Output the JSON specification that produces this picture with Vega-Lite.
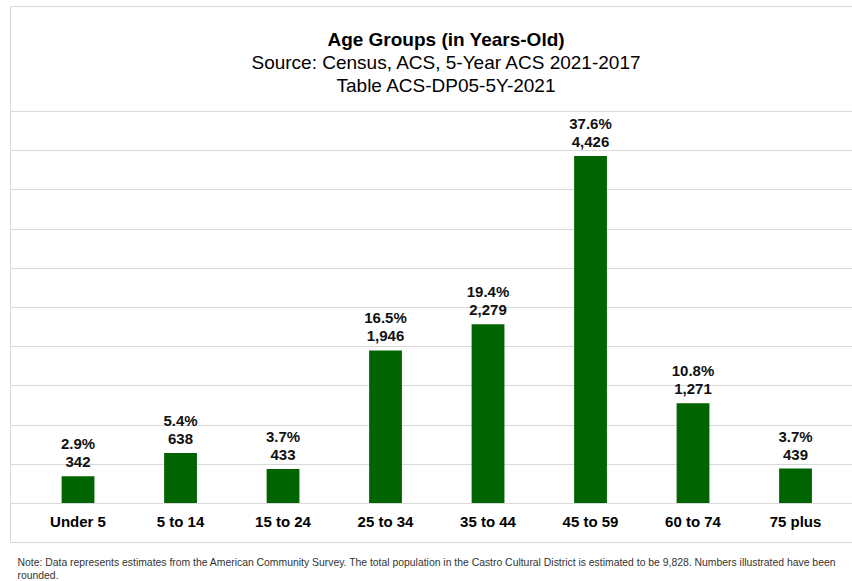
{
  "$schema": "https://vega.github.io/schema/vega-lite/v6.json",
  "padding": {"left": 9, "top": 5, "right": 0, "bottom": 0},
  "background": "#ffffff",
  "title": {
    "text": ["Note: Data represents estimates from the American Community Survey. The total population in the Castro Cultural District is estimated to be 9,828. Numbers illustrated have been", "rounded."],
    "orient": "bottom",
    "anchor": "start",
    "font": "Liberation Sans",
    "fontSize": 10.4,
    "fontWeight": "normal",
    "color": "#333333",
    "lineHeight": 12.5,
    "offset": 15.5,
    "dx": 8
  },
  "data": {
    "values": [
      {"group": "Under 5", "count": 342, "pct": 0.029},
      {"group": "5 to 14", "count": 638, "pct": 0.054},
      {"group": "15 to 24", "count": 433, "pct": 0.037},
      {"group": "25 to 34", "count": 1946, "pct": 0.165},
      {"group": "35 to 44", "count": 2279, "pct": 0.194},
      {"group": "45 to 59", "count": 4426, "pct": 0.376},
      {"group": "60 to 74", "count": 1271, "pct": 0.108},
      {"group": "75 plus", "count": 439, "pct": 0.037}
    ]
  },
  "vconcat": [
    {
      "width": 842,
      "height": 536,
      "title": {
        "text": "Age Groups (in Years-Old)",
        "subtitle": ["Source: Census, ACS, 5-Year ACS 2021-2017", "Table ACS-DP05-5Y-2021"],
        "anchor": "middle",
        "orient": "top",
        "font": "Liberation Sans",
        "fontSize": 19,
        "fontWeight": "bold",
        "color": "#000000",
        "subtitleFont": "Liberation Sans",
        "subtitleFontSize": 19,
        "subtitleColor": "#000000",
        "subtitleLineHeight": 23,
        "subtitlePadding": 4,
        "offset": -89.5,
        "dx": 15
      },
      "encoding": {
        "x": {
          "field": "group",
          "type": "nominal",
          "sort": null,
          "scale": {"paddingInner": 0.68, "paddingOuter": 0.4473, "align": 0.563},
          "axis": {
            "title": null,
            "orient": "bottom",
            "offset": -39,
            "domain": false,
            "ticks": false,
            "grid": false,
            "labelAngle": 0,
            "labelPadding": 11,
            "labelFont": "Liberation Sans",
            "labelFontSize": 15,
            "labelFontWeight": "bold",
            "labelColor": "#000000"
          }
        },
        "y": {
          "field": "count",
          "type": "quantitative",
          "scale": {"domain": [-497.4, 6339.3], "nice": false, "zero": false},
          "axis": {
            "title": null,
            "labels": false,
            "ticks": false,
            "domain": false,
            "grid": true,
            "gridColor": "#d9d9d9",
            "gridWidth": 1,
            "values": [0, 500, 1000, 1500, 2000, 2500, 3000, 3500, 4000, 4500, 5000]
          }
        }
      },
      "layer": [
        {"mark": {"type": "bar", "color": "#006400"}},
        {
          "mark": {"type": "text", "baseline": "alphabetic", "dy": -9, "font": "Liberation Sans", "fontSize": 15, "fontWeight": "bold", "color": "#111111"},
          "encoding": {"text": {"field": "count", "type": "quantitative", "format": ","}}
        },
        {
          "mark": {"type": "text", "baseline": "alphabetic", "dy": -27, "font": "Liberation Sans", "fontSize": 15, "fontWeight": "bold", "color": "#111111"},
          "encoding": {"text": {"field": "pct", "type": "quantitative", "format": ".1%"}}
        }
      ]
    }
  ],
  "config": {
    "view": {"stroke": "#d9d9d9", "strokeWidth": 1},
    "concat": {"spacing": 0}
  }
}
